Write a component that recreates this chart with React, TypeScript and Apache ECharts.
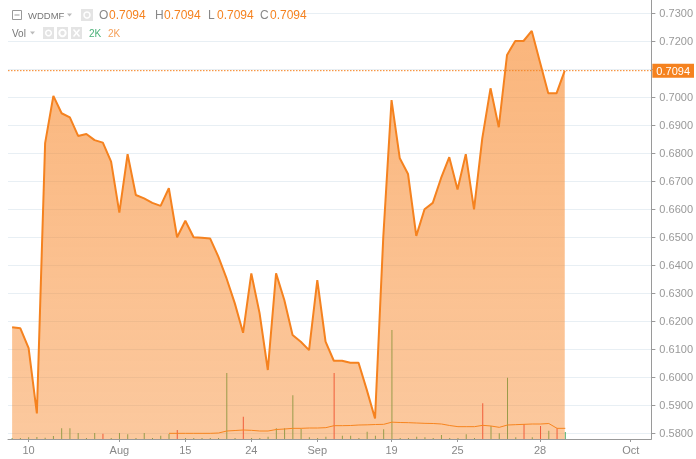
import React, { useEffect, useRef } from 'react';
import * as echarts from 'echarts';

// ---------- data ----------
const slotCount = 78;
const tickLabels = ['10', 'Aug', '15', '24', 'Sep', '19', '25', '28', 'Oct'];
const tickIndex = [2, 13, 21, 29, 37, 46, 54, 64, 75];

const gridTicks = [0.58, 0.59, 0.6, 0.61, 0.62, 0.63, 0.64, 0.65, 0.66, 0.67, 0.68, 0.69, 0.7, 0.71, 0.72, 0.73];
const priceLabels = [0.58, 0.59, 0.6, 0.61, 0.62, 0.63, 0.64, 0.65, 0.66, 0.67, 0.68, 0.69, 0.7, 0.72, 0.73];

const price = [
  0.6178, 0.6174, 0.6103, 0.5870, 0.6835, 0.7004, 0.6942, 0.6927, 0.6861, 0.6868,
  0.6846, 0.6837, 0.6769, 0.6587, 0.6796, 0.6650, 0.6638, 0.6622, 0.6611, 0.6674,
  0.6499, 0.6558, 0.6499, 0.6497, 0.6495, 0.6430, 0.6352, 0.6263, 0.6158, 0.6370,
  0.6228, 0.6025, 0.6370, 0.6275, 0.6150, 0.6126, 0.6096, 0.6346, 0.6126, 0.6058,
  0.6058, 0.6051, 0.6051, 0.5954, 0.5852, 0.6501, 0.6989, 0.6781, 0.6725, 0.6504,
  0.6599, 0.6622, 0.6710, 0.6785, 0.6670, 0.6796, 0.6599, 0.6852, 0.7031, 0.6892,
  0.7150, 0.7200, 0.7200, 0.7236, 0.7124, 0.7013, 0.7013, 0.7094,
];

const volume = [
  300, 300, 500, 600, 400, 900, 3200, 3200, 1800, 300,
  1800, 1600, 300, 1800, 1400, 300, 1800, 300, 1000, 1500,
  2700, 300, 300, 300, 300, 300, 19800, 300, 6700, 300,
  300, 700, 3200, 3200, 13100, 3000, 500, 300, 700, 19800,
  1000, 1000, 300, 2200, 1000, 2900, 32700, 300, 300, 700,
  500, 300, 1200, 300, 300, 1400, 300, 10700, 3900, 1700,
  18400, 500, 4500, 500, 3900, 2500, 3200, 2100,
];

const downBars = [11, 20, 28, 39, 57, 62, 64, 66];

const volumeMA = [
  null, null, null, null, null, null, null, null, null, null,
  null, null, null, null, null, null, null, null, null, 1700,
  1700, 1700, 1700, 1700, 1700, 1800, 2400, 2550, 2700, 2600,
  2400, 2400, 2850, 3000, 3200, 3200, 3300, 3300, 3400, 4000,
  4000, 4050, 4200, 4250, 4350, 4400, 5050, 4950, 4900, 4800,
  4700, 4650, 4500, 4050, 3700, 3700, 3700, 4100, 3900, 3500,
  4200, 4300, 4400, 4500, 4500, 4650, 3200, 3200,
];

const symbolName = 'WDDMF';
const lastVolText = '2K';
const lastMAText = '2K';

// ---------- chart ----------
const FONT = '"Liberation Sans", Arial, Helvetica, sans-serif';
const ORANGE = '#f5821f';
const UP = '#4caf6a';
const DOWN = '#eb3d4c';
const AXIS = '#9a9a9a';

export default function App() {
  const ref = useRef<HTMLDivElement | null>(null);

  useEffect(() => {
    if (!ref.current) return;
    const chart = echarts.init(ref.current, undefined, { renderer: 'svg' });

    const categories: string[] = [];
    for (let i = 0; i < slotCount; i++) {
      const k = tickIndex.indexOf(i);
      categories.push(k >= 0 ? tickLabels[k] : '');
    }
    const last = price[price.length - 1];

    const txt = (x: number, y: number, text: string, fill: string, size: number) => ({
      type: 'text',
      x,
      y,
      z: 20,
      style: { text, fill, fontSize: size, fontFamily: FONT, verticalAlign: 'middle' },
    });

    const graphic: any[] = [
      { type: 'rect', z: 15, shape: { x: 8, y: 3, width: 285, height: 21 }, style: { fill: '#fff' } },
      // row 1
      { type: 'rect', z: 20, shape: { x: 12.5, y: 10.5, width: 9, height: 9 }, style: { fill: 'none', stroke: '#999', lineWidth: 1 } },
      { type: 'line', z: 20, shape: { x1: 14.5, y1: 15, x2: 19.5, y2: 15 }, style: { stroke: '#999', lineWidth: 1 } },
      txt(28, 15, symbolName, '#777', 9.5),
      { type: 'polygon', z: 20, shape: { points: [[67, 13.5], [72, 13.5], [69.5, 16.5]] }, style: { fill: '#bbb' } },
      { type: 'rect', z: 20, shape: { x: 81, y: 9, width: 12, height: 12 }, style: { fill: '#e4e4e4' } },
      { type: 'circle', z: 21, shape: { cx: 87, cy: 15, r: 3 }, style: { fill: 'none', stroke: '#fff', lineWidth: 1.5 } },
      txt(99, 15, 'O', '#888', 12),
      txt(109, 15, last.toFixed(4), ORANGE, 12),
      txt(155, 15, 'H', '#888', 12),
      txt(164, 15, last.toFixed(4), ORANGE, 12),
      txt(208, 15, 'L', '#888', 12),
      txt(217, 15, last.toFixed(4), ORANGE, 12),
      txt(260, 15, 'C', '#888', 12),
      txt(270, 15, last.toFixed(4), ORANGE, 12),
      // row 2
      txt(12, 33, 'Vol', '#777', 10),
      { type: 'polygon', z: 20, shape: { points: [[30, 31.5], [35, 31.5], [32.5, 34.5]] }, style: { fill: '#bbb' } },
      { type: 'rect', z: 20, shape: { x: 43, y: 27, width: 11, height: 12 }, style: { fill: '#e4e4e4' } },
      { type: 'circle', z: 21, shape: { cx: 48.5, cy: 33, r: 2.8 }, style: { fill: 'none', stroke: '#fff', lineWidth: 1.5 } },
      { type: 'rect', z: 20, shape: { x: 57, y: 27, width: 11, height: 12 }, style: { fill: '#e4e4e4' } },
      { type: 'circle', z: 21, shape: { cx: 62.5, cy: 33, r: 3.2 }, style: { fill: 'none', stroke: '#fff', lineWidth: 2 } },
      { type: 'rect', z: 20, shape: { x: 71, y: 27, width: 11, height: 12 }, style: { fill: '#e4e4e4' } },
      { type: 'line', z: 21, shape: { x1: 73.5, y1: 29.5, x2: 79.5, y2: 36.5 }, style: { stroke: '#fff', lineWidth: 1.5 } },
      { type: 'line', z: 21, shape: { x1: 79.5, y1: 29.5, x2: 73.5, y2: 36.5 }, style: { stroke: '#fff', lineWidth: 1.5 } },
      txt(89, 33, lastVolText, '#4cb27a', 10),
      txt(108, 33, lastMAText, '#f5a05a', 10),
    ];

    const option: any = {
      animation: false,
      textStyle: { fontFamily: FONT },
      grid: [
        { left: 8, right: 44, top: 0, bottom: 20 },
        { left: 8, right: 44, bottom: 20, height: 130 },
      ],
      xAxis: [
        {
          type: 'category',
          gridIndex: 0,
          data: categories,
          boundaryGap: true,
          axisLine: { show: true, onZero: false, lineStyle: { color: AXIS } },
          axisTick: {
            show: true,
            alignWithLabel: true,
            interval: (_i: number, v: string) => v !== '',
            length: 3,
            lineStyle: { color: AXIS },
          },
          axisLabel: { interval: 0, color: '#888', fontSize: 11, margin: 5, fontFamily: FONT },
          splitLine: { show: false },
        },
        { type: 'category', gridIndex: 1, data: categories, boundaryGap: true, show: false },
        // helper axis spanning the full plot width for the last-price line
        {
          type: 'value',
          gridIndex: 0,
          min: 0,
          max: 1,
          show: false,
          axisLine: { show: false, onZero: false },
          splitLine: { show: false },
        },
      ],
      yAxis: [
        {
          type: 'value',
          gridIndex: 0,
          position: 'right',
          min: 0.57786,
          max: 0.73464,
          axisLine: { show: true, onZero: false, lineStyle: { color: AXIS, width: 1 } },
          axisTick: { show: true, length: 4, customValues: gridTicks, lineStyle: { color: AXIS } },
          axisLabel: {
            customValues: priceLabels,
            formatter: (v: number) => v.toFixed(4),
            color: '#999',
            fontSize: 11,
            margin: 8,
            fontFamily: FONT,
          },
          splitLine: { show: true, lineStyle: { color: '#e8eff4', width: 1 } },
        },
        { type: 'value', gridIndex: 1, min: 0, max: 39000, show: false, splitLine: { show: false } },
      ],
      series: [
        {
          type: 'bar',
          xAxisIndex: 1,
          yAxisIndex: 1,
          barWidth: 1,
          z: 1,
          data: volume.map((v, i) => ({ value: v, itemStyle: { color: downBars.includes(i) ? DOWN : UP } })),
        },
        {
          type: 'line',
          xAxisIndex: 1,
          yAxisIndex: 1,
          z: 2,
          symbol: 'none',
          data: volumeMA.map((v) => (v === null ? '-' : v)),
          lineStyle: { color: '#f7861c', width: 1 },
        },
        {
          type: 'line',
          xAxisIndex: 0,
          yAxisIndex: 0,
          z: 3,
          symbol: 'none',
          color: ORANGE,
          data: price,
          lineStyle: { color: ORANGE, width: 2 },
          areaStyle: {
            origin: 'start',
            color: new echarts.graphic.LinearGradient(0, 0, 0, 1, [
              { offset: 0, color: 'rgba(247,130,32,0.84)' },
              { offset: 1, color: 'rgba(247,130,32,0.62)' },
            ]),
          },
        },
        {
          type: 'line',
          xAxisIndex: 2,
          yAxisIndex: 0,
          z: 4,
          symbol: 'none',
          silent: true,
          color: ORANGE,
          data: [
            [0, last],
            [1, last],
          ],
          lineStyle: { color: ORANGE, type: [1.5, 1.5], width: 1 },
          endLabel: {
            show: true,
            formatter: () => last.toFixed(4),
            backgroundColor: ORANGE,
            color: '#fff',
            fontSize: 11,
            fontFamily: FONT,
            padding: [2, 4, 1, 4],
            distance: 1,
          },
        },
      ],
      graphic,
    };

    chart.setOption(option);
    return () => chart.dispose();
  }, []);

  return <div ref={ref} style={{ position: 'fixed', left: 0, top: 0, width: 696, height: 459 }} />;
}
